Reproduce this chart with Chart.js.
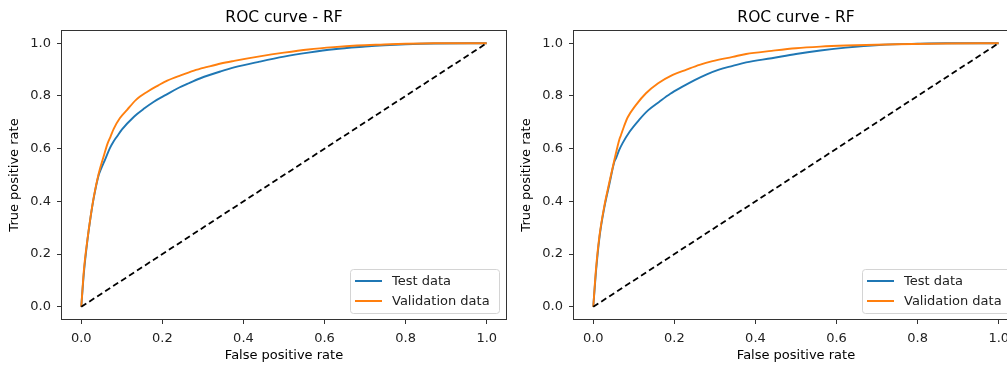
<!DOCTYPE html>
<html>
<head>
<meta charset="utf-8">
<script src="https://cdn.jsdelivr.net/npm/chart.js@4/dist/chart.umd.min.js"></script>
<style>
  html, body { margin: 0; padding: 0; background: #fff; overflow: hidden; width: 1007px; height: 367px; }
  canvas { position: absolute; top: 0; }
  #rocLeft { left: 0; }
  #rocRight { left: 512px; }
</style>
</head>
<body>
<canvas id="rocLeft" width="515" height="367"></canvas>
<canvas id="rocRight" width="510" height="367"></canvas>
<script>
// left plot - ROC curve RF
var leftTestFpr = [0, 0.0065, 0.015, 0.023, 0.031, 0.043, 0.048, 0.060, 0.070, 0.080, 0.089, 0.100, 0.130, 0.155, 0.179, 0.210, 0.237, 0.265, 0.294, 0.344, 0.377, 0.440, 0.500, 0.560, 0.623, 0.700, 0.747, 0.800, 0.870, 1];
var leftTestTpr = [0, 0.130, 0.250, 0.340, 0.415, 0.500, 0.520, 0.563, 0.600, 0.628, 0.648, 0.672, 0.721, 0.752, 0.778, 0.805, 0.828, 0.848, 0.867, 0.893, 0.908, 0.930, 0.949, 0.964, 0.977, 0.987, 0.992, 0.996, 0.999, 1];
var leftValFpr = [0, 0.0065, 0.015, 0.023, 0.031, 0.043, 0.056, 0.065, 0.072, 0.080, 0.095, 0.113, 0.135, 0.163, 0.190, 0.212, 0.245, 0.278, 0.311, 0.344, 0.377, 0.440, 0.500, 0.560, 0.623, 0.680, 0.747, 0.800, 0.870, 1];
var leftValTpr = [0, 0.139, 0.253, 0.342, 0.418, 0.506, 0.575, 0.620, 0.645, 0.675, 0.715, 0.747, 0.785, 0.816, 0.840, 0.858, 0.878, 0.896, 0.910, 0.923, 0.933, 0.950, 0.964, 0.976, 0.985, 0.991, 0.995, 0.998, 1.0, 1];

// right plot - ROC curve RF
var rightTestFpr = [0, 0.0065, 0.015, 0.027, 0.039, 0.052, 0.056, 0.064, 0.072, 0.090, 0.113, 0.135, 0.163, 0.190, 0.220, 0.250, 0.280, 0.310, 0.344, 0.377, 0.440, 0.500, 0.560, 0.623, 0.705, 0.800, 0.870, 1];
var rightTestTpr = [0, 0.130, 0.260, 0.375, 0.460, 0.550, 0.563, 0.595, 0.620, 0.665, 0.709, 0.745, 0.778, 0.808, 0.835, 0.860, 0.882, 0.900, 0.914, 0.927, 0.943, 0.959, 0.972, 0.983, 0.993, 0.998, 1.0, 1];
var rightValFpr = [0, 0.0065, 0.015, 0.027, 0.039, 0.052, 0.064, 0.068, 0.076, 0.085, 0.105, 0.130, 0.160, 0.196, 0.230, 0.262, 0.294, 0.344, 0.377, 0.440, 0.500, 0.560, 0.623, 0.747, 0.870, 1];
var rightValTpr = [0, 0.139, 0.266, 0.380, 0.468, 0.557, 0.633, 0.650, 0.685, 0.719, 0.765, 0.810, 0.848, 0.880, 0.900, 0.918, 0.932, 0.948, 0.959, 0.971, 0.981, 0.987, 0.991, 0.996, 0.999, 1];

// chance line
var chanceFpr = [0, 1];
var chanceTpr = [0, 1];

var seriesNames = ["Test data", "Validation data"];
var seriesColors = ["#1f77b4", "#ff7f0e"];
var tickValues = [0, 0.2, 0.4, 0.6, 0.8, 1.0];

Chart.defaults.font.family = '"DejaVu Sans", sans-serif';
Chart.defaults.font.size = 13;
Chart.defaults.color = '#222';

function toPoints(xs, ys) {
  return xs.map(function (x, i) { return {x: x, y: ys[i]}; });
}

// box round the plot area, like matplotlib spines
var frameBox = {
  id: 'frameBox',
  afterDatasetsDraw: function (chart) {
    var ctx = chart.ctx, a = chart.chartArea;
    ctx.save();
    ctx.strokeStyle = '#333';
    ctx.lineWidth = 1;
    ctx.strokeRect(Math.round(a.left) + 0.5, Math.round(a.top) + 0.5, Math.round(a.right - a.left) - 1, Math.round(a.bottom - a.top) - 1);
    ctx.restore();
  }
};

// legend in the lower right corner
var legendBox = {
  id: 'legendBox',
  afterDraw: function (chart) {
    var ctx = chart.ctx, a = chart.chartArea;
    var items = chart.data.datasets.filter(function (d) { return d.label; });
    var w = 149, h = 44;
    var x = Math.round(a.right - 8 - w), y = Math.round(a.bottom - 7 - h);
    ctx.save();
    ctx.fillStyle = 'rgba(255,255,255,0.8)';
    ctx.strokeStyle = '#d4d4d4';
    ctx.lineWidth = 1;
    ctx.beginPath();
    ctx.roundRect(x + 0.5, y + 0.5, w, h, 3);
    ctx.fill();
    ctx.stroke();
    ctx.font = '13px "DejaVu Sans"';
    ctx.textBaseline = 'middle';
    items.forEach(function (d, i) {
      var cy = y + 12 + i * 20;
      ctx.strokeStyle = d.borderColor;
      ctx.lineWidth = 2;
      ctx.beginPath();
      ctx.moveTo(x + 5, cy);
      ctx.lineTo(x + 32, cy);
      ctx.stroke();
      ctx.fillStyle = '#222';
      ctx.fillText(d.label, x + 42, cy + 1);
    });
    ctx.restore();
  }
};

function makeRoc(id, testX, testY, valX, valY, padRight) {
  return new Chart(id, {
    type: 'line',
    data: {
      datasets: [{
        label: seriesNames[0],
        data: toPoints(testX, testY),
        borderColor: seriesColors[0],
        borderWidth: 1.9,
        pointRadius: 0,
        cubicInterpolationMode: 'monotone',
        order: 2
      }, {
        label: seriesNames[1],
        data: toPoints(valX, valY),
        borderColor: seriesColors[1],
        borderWidth: 1.9,
        pointRadius: 0,
        cubicInterpolationMode: 'monotone',
        order: 1
      }, {
        data: toPoints(chanceFpr, chanceTpr),
        borderColor: '#000',
        borderWidth: 1.8,
        borderDash: [6, 3.5],
        pointRadius: 0,
        order: 0
      }]
    },
    options: {
      responsive: false,
      animation: false,
      layout: {padding: {left: 0, right: padRight, top: 0, bottom: 0}},
      plugins: {
        legend: {display: false},
        tooltip: {enabled: false},
        title: {
          display: true,
          text: 'ROC curve - RF',
          fullSize: false,
          color: '#000',
          font: {size: 15.5, weight: 'normal'},
          padding: {top: 9, bottom: 2.4}
        }
      },
      scales: {
        x: {
          type: 'linear',
          min: -0.05,
          max: 1.05,
          afterFit: function (s) { s.height = 47; },
          afterBuildTicks: function (s) { s.ticks = tickValues.map(function (v) { return {value: v}; }); },
          border: {display: false},
          grid: {drawOnChartArea: false, drawTicks: true, tickLength: 4, color: '#333'},
          ticks: {padding: 7, callback: function (v) { return v.toFixed(1); }},
          title: {display: true, text: 'False positive rate', color: '#000', padding: {top: 0, bottom: 4}}
        },
        y: {
          type: 'linear',
          min: -0.05,
          max: 1.05,
          afterFit: function (s) { s.width = 61; },
          afterBuildTicks: function (s) { s.ticks = tickValues.map(function (v) { return {value: v}; }); },
          border: {display: false},
          grid: {drawOnChartArea: false, drawTicks: true, tickLength: 4, color: '#333'},
          ticks: {padding: 6, callback: function (v) { return v.toFixed(1); }},
          title: {display: true, text: 'True positive rate', color: '#000', padding: {top: 7, bottom: 0}}
        }
      }
    },
    plugins: [frameBox, legendBox]
  });
}

makeRoc('rocLeft', leftTestFpr, leftTestTpr, leftValFpr, leftValTpr, 8);
makeRoc('rocRight', rightTestFpr, rightTestTpr, rightValFpr, rightValTpr, 3);
</script>
</body>
</html>
